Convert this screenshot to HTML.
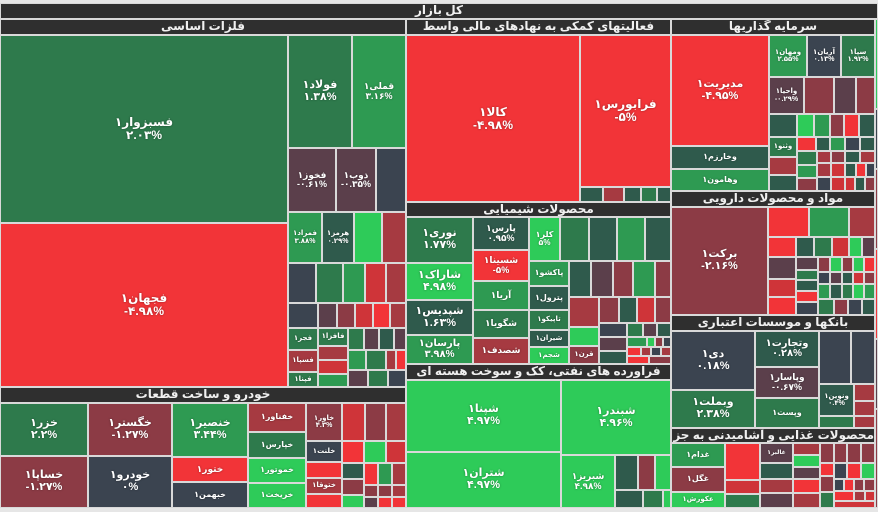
<!DOCTYPE html>
<html><head><meta charset="utf-8">
<style>
html,body{margin:0;padding:0;}
body{width:878px;height:512px;background:#e6e6e6;position:relative;overflow:hidden;font-family:"Liberation Sans","DejaVu Sans",sans-serif;}
.c{position:absolute;box-sizing:border-box;border:1px solid #d9d9d9;color:#fff;display:flex;flex-direction:column;align-items:center;justify-content:center;text-align:center;font-weight:bold;line-height:1.05;overflow:hidden;direction:rtl;text-shadow:0 0 2px rgba(0,0,0,.4);}
.c .n{direction:ltr;unicode-bidi:isolate;}
.h{position:absolute;box-sizing:border-box;background:#2f2f2f;color:#f0f0f0;font-size:12px;font-weight:bold;text-align:center;direction:rtl;border:1px solid #d9d9d9;line-height:13px;white-space:nowrap;overflow:hidden;}
</style></head><body>
<div id="m"></div>
<script>
var K={R:'#f23438',r:'#cf3439',M:'#a63a41',m:'#8c3b45',P:'#5b3f4b',S:'#3b4450',T:'#2f5a4c',D:'#2e7a4c',G:'#2e9a52',L:'#2ecb59'};
var H=[[0,3,878,16,'کل بازار'],[0,19,406,16,'فلزات اساسی'],[406,19,265,16,'فعالیتهای کمکی به نهادهای مالی واسط'],[671,19,204,16,'سرمایه گذاریها'],
[406,202,265,15,'محصولات شیمیایی'],[0,387,406,16,'خودرو و ساخت قطعات'],[406,364,265,16,'فراورده های نفتی، کک و سوخت هسته ای'],
[671,191,204,16,'مواد و محصولات دارویی'],[671,315,204,16,'بانکها و موسسات اعتباری'],[671,428,204,15,'محصولات غذایی و آشامیدنی به جز قند']];
var C=[
[0,35,288,188,'D','فسبزوار۱','۲.۰۳%',12],[0,223,288,164,'R','فجهان۱','-۴.۹۸%',12],
[288,35,64,113,'D','فولاد۱','۱.۳۸%',11],[352,35,54,113,'G','قملی۱','۳.۱۶%',9],
[288,148,48,64,'P','فخوز۱','-۰.۶۱%',9],[336,148,40,64,'P','ذوب۱','-۰.۳۵%',9],[376,148,30,64,'S'],
[288,212,34,51,'G','فمراد۱','۳.۸۸%',7],[322,212,32,51,'T','هرمز۱','۰.۲۹%',7],[354,212,28,51,'L'],[382,212,24,51,'M'],
[288,263,28,40,'S'],[316,263,27,40,'D'],[343,263,22,40,'G'],[365,263,21,40,'r'],[386,263,20,40,'M'],
[288,303,30,25,'S'],[318,303,19,25,'P'],[337,303,18,25,'m'],[355,303,18,25,'r'],[373,303,17,25,'R'],[390,303,16,25,'M'],
[288,328,30,22,'D','فجر۱','',7],[288,350,30,22,'M','فسپا۱','',7],[288,372,30,15,'D','فپنا۱','',7],
[318,328,30,18,'D','فافزا۱','',7],[318,346,30,14,'M'],[318,360,30,14,'r'],[318,374,30,13,'G'],
[348,328,16,22,'D'],[364,328,15,22,'P'],[379,328,15,22,'T'],[394,328,12,22,'P'],
[348,350,18,20,'G'],[366,350,20,20,'D'],[386,350,10,20,'M'],[396,350,10,20,'R'],
[348,370,20,17,'P'],[368,370,20,17,'D'],[388,370,18,17,'S'],
[0,403,88,53,'D','خزر۱','۲.۲%',11],[0,456,88,52,'m','خساپا۱','-۱.۲۷%',11],
[88,403,84,53,'m','خگستر۱','-۱.۲۷%',11],[88,456,84,52,'S','خودرو۱','۰%',11],
[172,403,76,54,'G','خنصیر۱','۳.۴۴%',11],[172,457,76,25,'R','ختور۱','',9],[172,482,76,26,'S','خبهمن۱','',8],
[248,403,58,29,'M','خفناور۱','',8],[248,432,58,26,'D','خپارس۱','',8],[248,458,58,25,'L','خموتور۱','',8],[248,483,58,25,'L','خریخت۱','',8],
[306,403,36,38,'m','خاور۱','۴.۳%',7],[342,403,23,38,'r'],[365,403,21,38,'m'],[386,403,20,38,'M'],
[306,441,36,21,'S','خلنت۱','',7],[306,462,36,16,'R'],[306,478,36,16,'M','ختوقا۱','',7],[306,494,36,14,'R'],
[342,441,22,22,'R'],[364,441,22,22,'L'],[386,441,20,22,'r'],
[342,463,22,16,'T'],[364,463,14,22,'R'],[378,463,14,22,'G'],[392,463,14,22,'M'],
[342,479,22,16,'m'],[342,495,22,13,'L'],[364,485,14,12,'m'],[378,485,14,12,'m'],[392,485,14,12,'M'],[364,497,14,11,'P'],[378,497,14,11,'R'],[392,497,14,11,'R'],
[406,35,174,167,'R','کالا۱','-۴.۹۸%',12],[580,35,91,152,'R','فرابورس۱','-۵%',12],
[580,187,23,15,'T'],[603,187,21,15,'M'],[624,187,17,15,'T'],[641,187,16,15,'D'],[657,187,14,15,'T'],
[406,217,67,46,'D','نوری۱','۱.۷۷%',11],[406,263,67,37,'L','شاراک۱','۴.۹۸%',11],[406,300,67,35,'T','شپدیس۱','۱.۶۳%',11],[406,335,67,29,'G','پارسان۱','۳.۹۸%',10],
[473,217,56,33,'T','پارس۱','۰.۹۵%',9],[473,250,56,31,'R','شسینا۱','-۵%',9],[473,281,56,29,'G','آریا۱','',9],[473,310,56,28,'D','شگویا۱','',9],[473,338,56,26,'M','شصدف۱','',9],
[529,217,31,44,'L','کلر۱','۵%',8],[560,217,29,44,'D'],[589,217,28,44,'T'],[617,217,28,44,'G'],[645,217,26,44,'T'],
[529,261,40,25,'G','پاکشو۱','',8],[529,286,40,24,'T','پترول۱','',8],[529,310,40,20,'D','تاپیکو۱','',7],[529,330,40,17,'T','شیران۱','',7],[529,347,40,17,'L','شجم۱','',7],
[569,261,22,36,'T'],[591,261,22,36,'P'],[613,261,20,36,'m'],[633,261,22,36,'G'],[655,261,16,36,'m'],
[569,297,30,30,'M'],[599,297,20,26,'m'],[619,297,18,26,'T'],[637,297,18,26,'r'],[655,297,16,26,'m'],
[569,327,30,19,'L'],[569,346,30,18,'m','قرن۱','',7],
[599,323,28,14,'S'],[627,323,16,14,'D'],[643,323,14,14,'P'],[657,323,14,14,'T'],
[599,337,28,14,'P'],[627,337,20,10,'G'],[647,337,8,10,'L'],[655,337,8,10,'m'],[663,337,8,10,'S'],
[599,351,28,13,'T'],[627,347,14,9,'R'],[641,347,10,9,'M'],[651,347,10,9,'S'],[661,347,10,9,'M'],[627,356,22,8,'R'],[649,356,22,8,'m'],
[406,380,155,72,'L','شپنا۱','۴.۹۷%',11],[406,452,155,56,'L','شتران۱','۴.۹۷%',11],
[561,380,110,75,'L','شبندر۱','۴.۹۶%',11],[561,455,54,53,'L','شبریز۱','۴.۹۸%',9],
[615,455,23,35,'T'],[638,455,17,35,'m'],[655,455,16,35,'L'],[615,490,28,18,'T'],[643,490,20,18,'D'],[663,490,8,18,'L'],
[671,35,98,111,'R','مدیریت۱','-۴.۹۵%',11],[671,146,98,23,'T','وخارزم۱','',8],[671,169,98,22,'G','وهامون۱','',8],
[769,35,38,42,'G','ومهان۱','۲.۵۵%',7],[807,35,34,42,'S','آریان۱','۰.۱۳%',7],[841,35,34,42,'D','سپا۱','۱.۹۲%',7],
[769,77,35,37,'P','واحیا۱','-۰.۲۹%',7],[804,77,30,37,'m'],[834,77,22,37,'P'],[856,77,19,37,'m'],
[769,114,28,23,'T'],[797,114,17,23,'L'],[814,114,16,23,'G'],[830,114,14,23,'m'],[844,114,15,23,'R'],[859,114,16,23,'T'],
[769,137,28,20,'D','وثنو۱','',7],[797,137,19,14,'R'],[816,137,14,14,'T'],[830,137,15,14,'G'],[845,137,15,14,'S'],[860,137,15,14,'T'],
[769,157,28,18,'M'],[769,175,28,16,'T'],[797,151,20,14,'D'],[797,165,20,13,'G'],[797,178,20,13,'m'],
[817,151,14,12,'M'],[831,151,14,12,'m'],[845,151,15,12,'T'],[860,151,15,12,'M'],
[817,163,14,14,'M'],[831,163,14,14,'r'],[845,163,11,14,'T'],[856,163,10,14,'R'],[866,163,9,14,'S'],
[817,177,14,14,'S'],[831,177,14,14,'r'],[845,177,10,14,'r'],[855,177,10,14,'T'],[865,177,10,14,'m'],
[671,207,97,108,'m','برکت۱','-۲.۱۶%',11],
[768,207,41,30,'R'],[809,207,40,30,'G'],[849,207,26,30,'M'],
[768,237,28,20,'R'],[796,237,18,20,'T'],[814,237,18,20,'D'],[832,237,17,20,'r'],[849,237,13,20,'L'],[862,237,13,20,'P'],
[768,257,28,22,'P'],[768,279,28,18,'r'],[768,297,28,18,'R'],
[796,257,22,13,'P'],[796,270,22,10,'D'],[796,280,22,11,'T'],[796,291,22,11,'R'],[796,302,22,13,'S'],
[818,257,12,15,'m'],[830,257,12,15,'L'],[842,257,11,15,'m'],[853,257,11,15,'L'],[864,257,11,15,'R'],
[818,272,12,12,'S'],[830,272,12,12,'P'],[842,272,11,12,'T'],[853,272,11,12,'r'],[864,272,11,12,'m'],
[818,284,12,15,'G'],[830,284,12,15,'T'],[842,284,11,15,'D'],[853,284,11,15,'L'],[864,284,11,15,'G'],
[818,299,16,16,'D'],[834,299,14,16,'m'],[848,299,14,16,'S'],[862,299,13,16,'T'],
[671,331,84,59,'S','دی۱','۰.۱۸%',11],[671,390,84,38,'D','وبملت۱','۲.۳۸%',11],
[755,331,64,36,'T','وتجارت۱','۰.۲۸%',10],[755,367,64,31,'P','وپاسار۱','-۰.۶۷%',9],[755,398,64,30,'D','وپست۱','',8],
[819,331,32,53,'S'],[851,331,24,53,'S'],[819,384,35,32,'T','ونوین۱','۰.۴%',7],[854,384,21,17,'M'],[854,401,21,15,'M'],[819,416,35,12,'D'],[854,416,21,12,'M'],
[671,443,54,24,'G','غدام۱','',8],[671,467,54,25,'m','غگل۱','',8],[671,492,54,16,'L','عکورش۱','',7],
[725,443,35,37,'R'],[725,480,35,14,'r'],[725,494,35,14,'D'],
[760,443,33,20,'P','غالبر۱','',6],[760,463,33,16,'T'],[760,479,33,14,'M'],[760,493,33,15,'P'],
[793,443,27,12,'M'],[793,455,27,12,'L'],[793,467,27,12,'P'],[793,479,27,14,'R'],[793,493,27,15,'M'],
[820,443,14,20,'m'],[834,443,13,20,'m'],[847,443,14,20,'m'],[861,443,14,20,'m'],
[820,463,14,13,'R'],[834,463,13,16,'S'],[847,463,14,16,'R'],[861,463,14,16,'L'],
[820,476,14,16,'m'],[834,479,10,12,'S'],[844,479,10,12,'R'],[854,479,10,12,'m'],[864,479,11,12,'m'],
[820,492,14,16,'D'],[834,491,20,10,'R'],[854,491,11,10,'M'],[865,491,10,10,'r'],[834,501,41,7,'r'],
[875,19,3,90,'L'],[875,109,3,60,'S'],[875,169,3,80,'m'],[875,249,3,90,'R'],[875,339,3,70,'P'],[875,409,3,99,'m']
];
var s='';
H.forEach(function(h){s+='<div class="h" style="left:'+h[0]+'px;top:'+h[1]+'px;width:'+h[2]+'px;height:'+h[3]+'px">'+h[4]+'</div>';});
C.forEach(function(c){if(!c[2])return;var t='';if(c[5]){t='<div>'+c[5]+'</div>'+(c[6]?'<div class="n">'+c[6]+'</div>':'');}
s+='<div class="c" style="left:'+c[0]+'px;top:'+c[1]+'px;width:'+c[2]+'px;height:'+c[3]+'px;background:'+K[c[4]]+';font-size:'+(c[7]||9)+'px">'+t+'</div>';});
document.getElementById('m').innerHTML=s;
</script>
</body></html>
